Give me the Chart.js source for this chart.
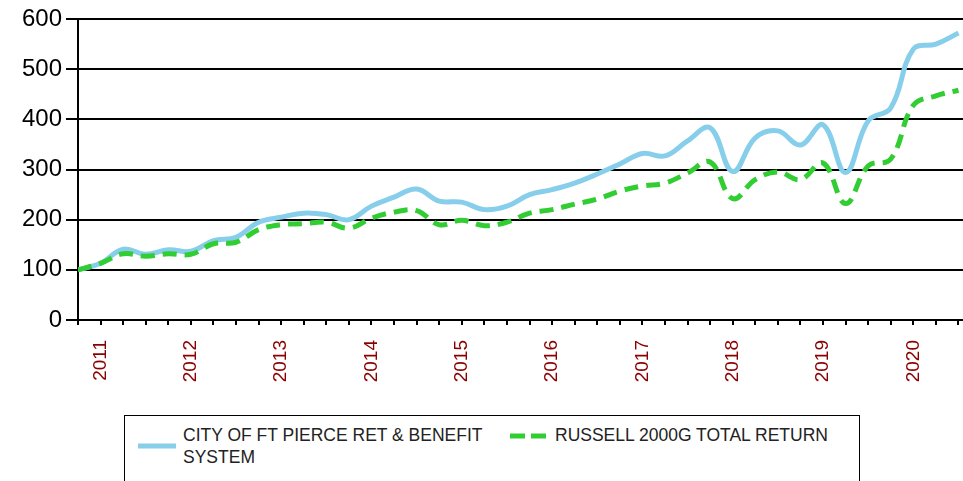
<!DOCTYPE html>
<html>
<head>
<meta charset="utf-8">
<script src="https://cdn.jsdelivr.net/npm/chart.js@4"></script>
<style>
  html, body { margin: 0; padding: 0; background: #fff; overflow: hidden; }
  body { width: 963px; height: 481px; position: relative; font-family: "Liberation Sans", Arial, sans-serif; }
  #chart { position: absolute; left: 0; top: 0; }
  #legend {
    position: absolute; left: 124px; top: 415px; width: 736px; height: 90px;
    border: 1.5px solid #000; box-sizing: border-box;
  }
  .item { position: absolute; top: 8px; display: flex; align-items: flex-start; }
  .item svg { margin-top: 6px; }
  .item span { font-size: 17.5px; line-height: 22px; color: #222; margin-left: 7px; }
</style>
</head>
<body>
<canvas id="chart" width="963" height="390"></canvas>
<div id="legend"></div>
<script>
const yearLabels = ["2011", "2012", "2013", "2014", "2015", "2016", "2017", "2018", "2019", "2020"]

const cityValues = [100, 113, 141, 131, 140, 137, 158, 165, 195, 205,
                    213, 210, 200, 227, 245, 261, 237, 235, 220, 227,
                    250, 260, 273, 291, 311, 332, 327, 357, 383, 296,
                    363, 377, 349, 389, 294, 397, 423, 540, 550, 572]

const russellValues = [100, 113, 132, 127, 132, 131, 152, 155, 180, 190,
                       192, 195, 183, 203, 215, 218, 190, 199, 188, 195,
                       213, 220, 231, 241, 257, 267, 273, 293, 315, 242,
                       280, 295, 280, 313, 232, 307, 321, 428, 447, 458]

const seriesNames = ["CITY OF FT PIERCE RET & BENEFIT SYSTEM", "RUSSELL 2000G TOTAL RETURN"]
const seriesColors = ["#87CEEB", "#32CD32"]

const yTicks = [0, 100, 200, 300, 400, 500, 600]

function toPoints(values) {
    return values.map((v, i) => ({ x: i, y: v }))
}

document.addEventListener("DOMContentLoaded", () => {

    const ctx = document.getElementById("chart")

    new Chart(ctx, {
        type: "line",
        data: {
            datasets: [{
                label: seriesNames[0],
                data: toPoints(cityValues),
                borderColor: seriesColors[0],
                borderWidth: 5,
                pointRadius: 0,
                tension: 0.4,
                order: 1
            }, {
                label: seriesNames[1],
                data: toPoints(russellValues),
                borderColor: seriesColors[1],
                borderWidth: 5,
                borderDash: [14, 8],
                pointRadius: 0,
                tension: 0.4,
                order: 0
            }]
        },
        options: {
            responsive: false,
            animation: false,
            devicePixelRatio: 1,
            layout: { padding: { top: 19, right: 0, left: 0, bottom: 0 } },
            plugins: {
                legend: { display: false },
                tooltip: { enabled: false }
            },
            scales: {
                x: {
                    type: "linear",
                    min: 0,
                    max: 39.2,
                    afterBuildTicks: scale => {
                        scale.ticks = cityValues.map((v, i) => ({ value: i }))
                    },
                    afterFit: scale => {
                        scale.height = 70
                        scale.paddingLeft = 0
                        scale.paddingRight = 0
                    },
                    grid: {
                        drawOnChartArea: false,
                        drawTicks: true,
                        tickLength: 5,
                        color: "#000",
                        lineWidth: 2
                    },
                    border: { color: "#000", width: 2 },
                    ticks: {
                        autoSkip: false,
                        minRotation: 90,
                        maxRotation: 90,
                        padding: 15,
                        color: "#8B0000",
                        font: { family: "'Liberation Sans', Arial, sans-serif", size: 19 },
                        callback: v => ((v - 1) % 4 === 0 ? yearLabels[(v - 1) / 4] : "")
                    }
                },
                y: {
                    min: 0,
                    max: 600,
                    afterBuildTicks: scale => {
                        scale.ticks = yTicks.map(v => ({ value: v }))
                    },
                    afterFit: scale => { scale.width = 78 },
                    grid: {
                        color: "#000",
                        lineWidth: 2,
                        tickLength: 12
                    },
                    border: { color: "#000", width: 2 },
                    ticks: {
                        padding: 4,
                        color: "#000",
                        font: { family: "'Liberation Sans', Arial, sans-serif", size: 24 }
                    }
                }
            }
        }
    })

    // legend drawn as html so the long name can wrap like the original
    const legend = document.getElementById("legend")
    const spots = [{ left: 13, width: 310 }, { left: 385, width: 320 }]

    seriesNames.forEach((name, i) => {
        const item = document.createElement("div")
        item.className = "item"
        item.style.left = spots[i].left + "px"
        const dash = i === 1 ? ' stroke-dasharray="15 6"' : ""
        const offset = i === 0 ? 10 : 0
        item.innerHTML =
            '<svg width="38" height="30"><line x1="0" x2="38" y1="' + (6 + offset) + '" y2="' + (6 + offset) +
            '" stroke="' + seriesColors[i] + '" stroke-width="5"' + dash + '/></svg>' +
            '<span style="max-width:' + spots[i].width + 'px">' + name + '</span>'
        legend.appendChild(item)
    })
})
</script>
</body>
</html>
